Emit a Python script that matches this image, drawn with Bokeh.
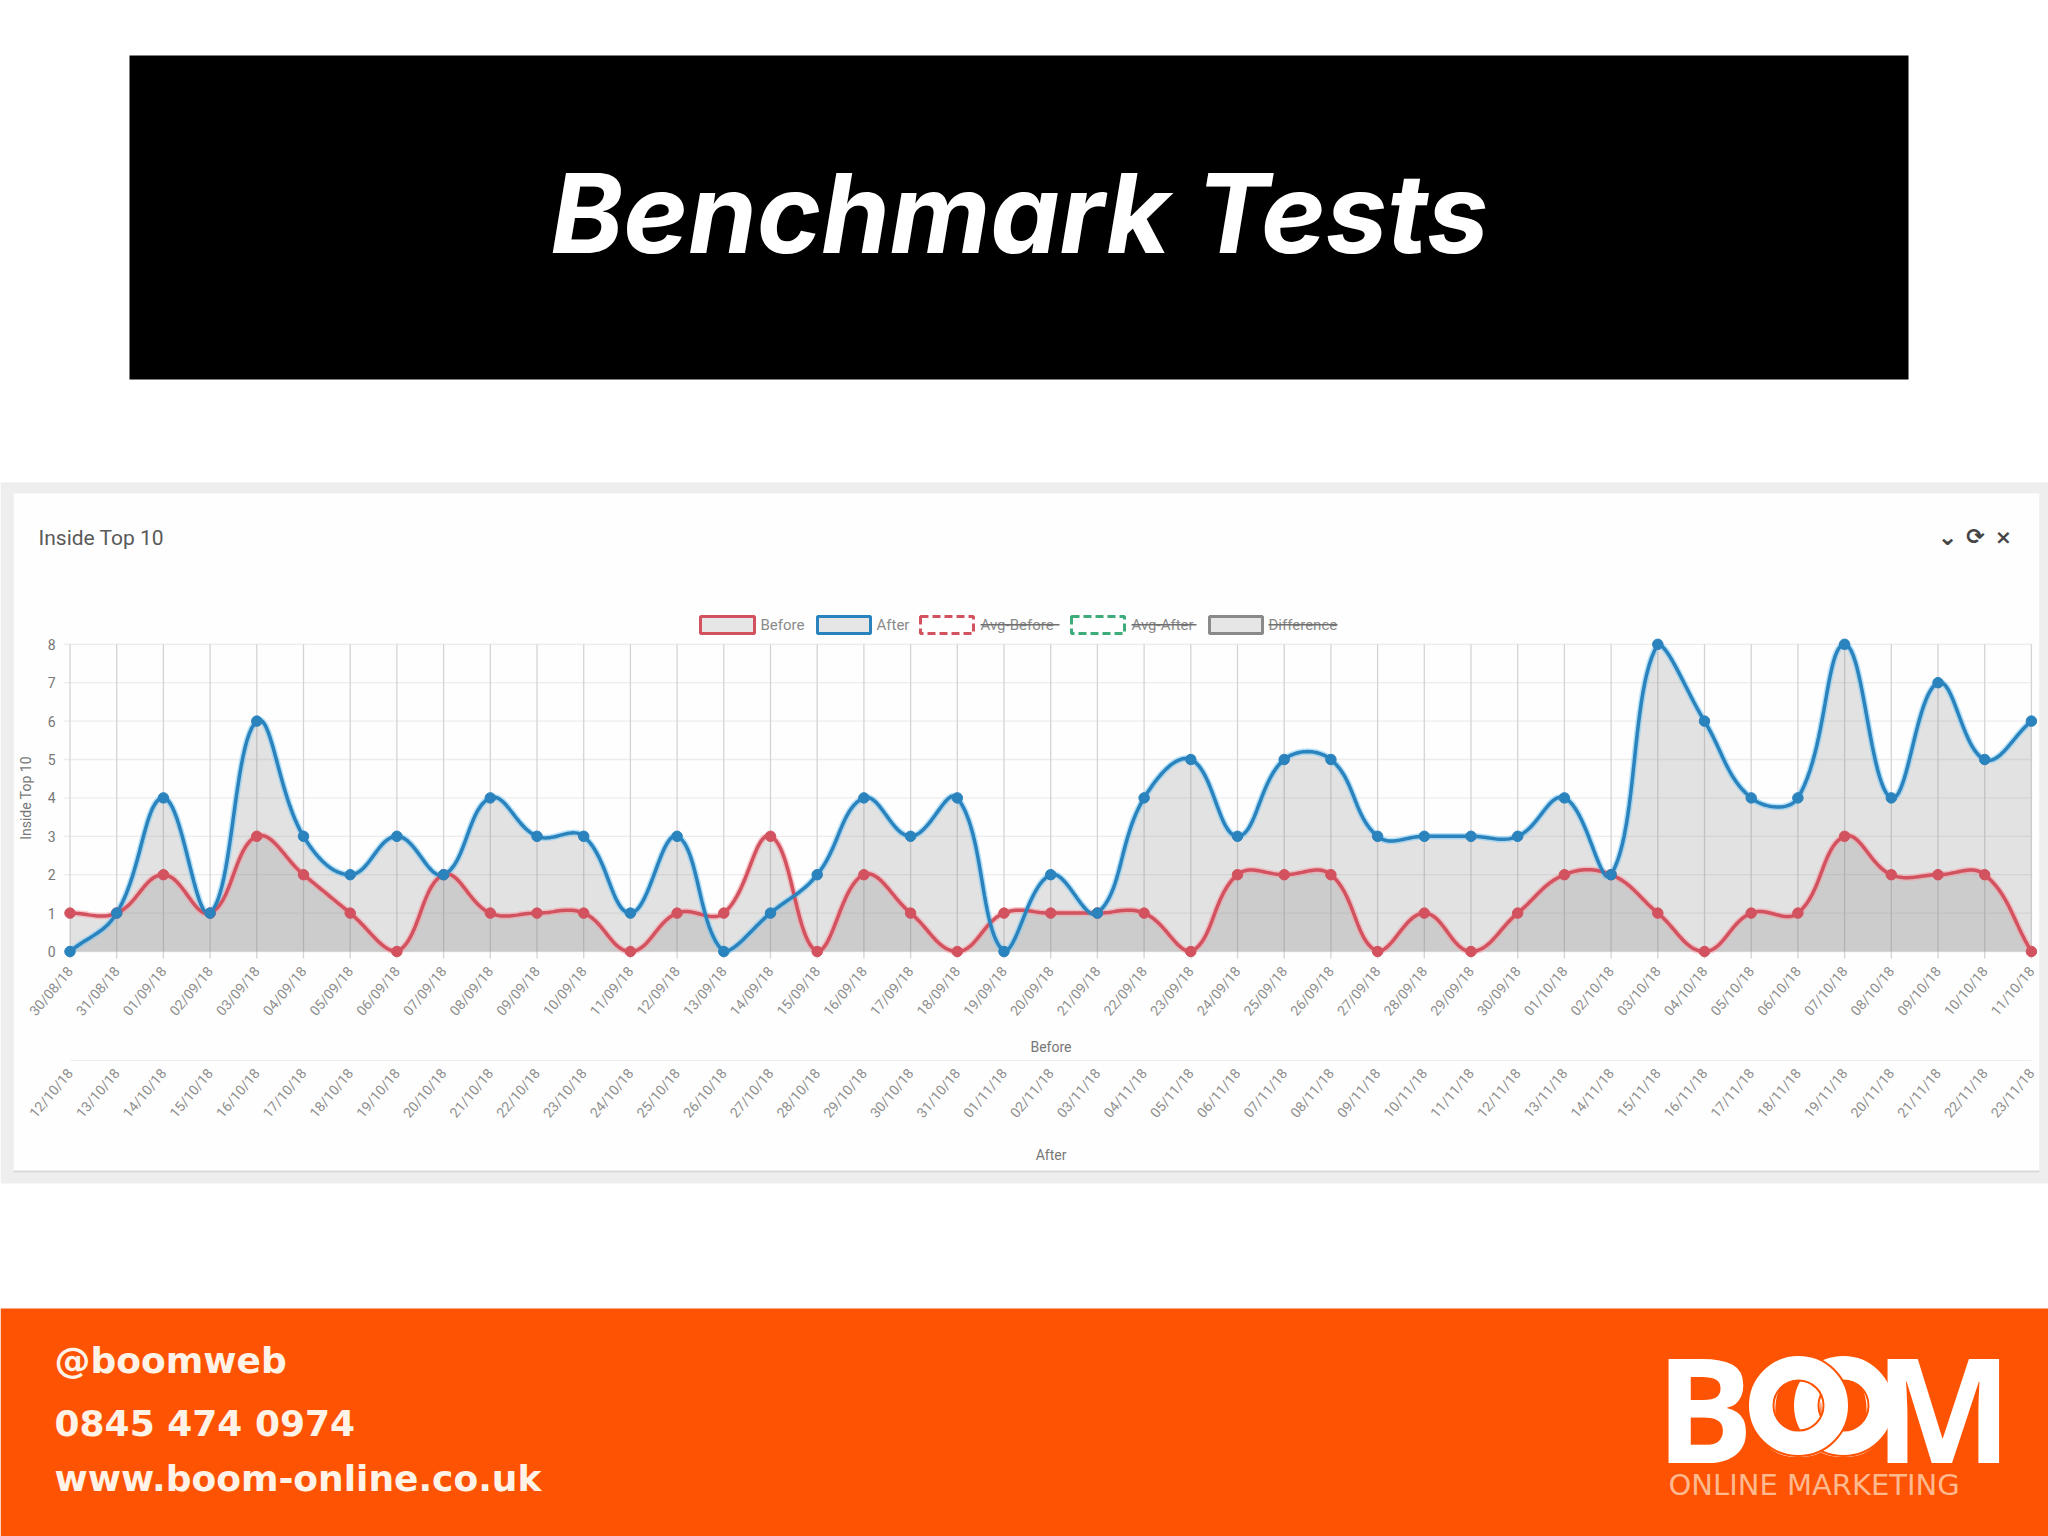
import numpy as np
from bokeh.embed import file_html
from bokeh.resources import INLINE
from bokeh.plotting import figure
from bokeh.models import BoxAnnotation, Label, LinearAxis, FixedTicker, Range1d

TITLE = "Benchmark Tests"
CARD_TITLE = "Inside Top 10"
dates_before = ["30/08/18","31/08/18","01/09/18","02/09/18","03/09/18","04/09/18","05/09/18","06/09/18","07/09/18",
    "08/09/18","09/09/18","10/09/18","11/09/18","12/09/18","13/09/18","14/09/18","15/09/18","16/09/18","17/09/18",
    "18/09/18","19/09/18","20/09/18","21/09/18","22/09/18","23/09/18","24/09/18","25/09/18","26/09/18","27/09/18",
    "28/09/18","29/09/18","30/09/18","01/10/18","02/10/18","03/10/18","04/10/18","05/10/18","06/10/18","07/10/18",
    "08/10/18","09/10/18","10/10/18","11/10/18"]
dates_after = ["12/10/18","13/10/18","14/10/18","15/10/18","16/10/18","17/10/18","18/10/18","19/10/18","20/10/18",
    "21/10/18","22/10/18","23/10/18","24/10/18","25/10/18","26/10/18","27/10/18","28/10/18","29/10/18","30/10/18",
    "31/10/18","01/11/18","02/11/18","03/11/18","04/11/18","05/11/18","06/11/18","07/11/18","08/11/18","09/11/18",
    "10/11/18","11/11/18","12/11/18","13/11/18","14/11/18","15/11/18","16/11/18","17/11/18","18/11/18","19/11/18",
    "20/11/18","21/11/18","22/11/18","23/11/18"]
before = [1,1,2,1,3,2,1,0,2,1,1,1,0,1,1,3,0,2,1,0,1,1,1,1,0,2,2,2,0,1,0,1,2,2,1,0,1,1,3,2,2,2,0]
after = [0,1,4,1,6,3,2,3,2,4,3,3,1,3,0,1,2,4,3,4,0,2,1,4,5,3,5,5,3,3,3,3,4,2,8,6,4,4,8,4,7,5,6]
legend_names = ["Before", "After", "Avg-Before", "Avg-After", "Difference"]
footer_lines = ["@boomweb", "0845 474 0974", "www.boom-online.co.uk"]

BLUE, RED, GREEN, GREY = "#2b83bd", "#d2535f", "#3dab7a", "#8a8a8a"
ORANGE = "#fd5303"
FONT = "Roboto"
W, H = 2048, 1536
X0, Y0 = 69.5, 951       # page pixel of the data origin
XPX, YPX = 46.7, 38.4    # pixels per data unit


def smooth(values, tension=0.4, n=24):
    """Chart.js style bezier through the values (control points clamped to the scale)."""
    v = np.asarray(values, float)
    m = len(v)
    px, py = np.arange(m) * XPX, v * YPX
    out_x, out_y = [], []
    nxt = [None] * m
    prv = [None] * m
    for i in range(m):
        a, c = max(i - 1, 0), min(i + 1, m - 1)
        d1 = np.hypot(px[i] - px[a], py[i] - py[a])
        d2 = np.hypot(px[c] - px[i], py[c] - py[i])
        tot = d1 + d2 or 1
        ddx, ddy = px[c] - px[a], py[c] - py[a]
        prv[i] = (px[i] - tension * d1 / tot * ddx, py[i] - tension * d1 / tot * ddy)
        nxt[i] = (px[i] + tension * d2 / tot * ddx, py[i] + tension * d2 / tot * ddy)
    lim = 8 * YPX
    t = np.linspace(0, 1, n, endpoint=False)
    for i in range(m - 1):
        y1 = min(max(nxt[i][1], 0), lim)
        y2 = min(max(prv[i + 1][1], 0), lim)
        bx = (1-t)**3*px[i] + 3*(1-t)**2*t*nxt[i][0] + 3*(1-t)*t**2*prv[i+1][0] + t**3*px[i+1]
        by = (1-t)**3*py[i] + 3*(1-t)**2*t*y1 + 3*(1-t)*t**2*y2 + t**3*py[i+1]
        out_x.append(bx); out_y.append(by)
    return np.concatenate(out_x + [[px[-1]]]) / XPX, np.concatenate(out_y + [[py[-1]]]) / YPX


def dx(page_x):
    return (page_x - X0) / XPX


def dy(page_y):
    return (Y0 - page_y) / YPX


# the frame fills the page, so everything shares one pair of scales
p = figure(width=W, height=H, output_backend="svg", toolbar_location=None,
           x_range=Range1d(dx(0), dx(W)), y_range=Range1d(dy(H), dy(0)),
           min_border=0, background_fill_color="white", border_fill_color="white", outline_line_color=None)
p.grid.visible = False


def box(l, t, r, b, fill=None, line=None, width=0, dash="solid", level="image", alpha=1.0):
    p.add_layout(BoxAnnotation(left=dx(l), right=dx(r), top=dy(t), bottom=dy(b),
                               fill_color=fill, fill_alpha=alpha if fill else 0, line_color=line,
                               line_alpha=1 if line else 0, line_width=width, line_dash=dash, level=level,
                               editable=False))


def text(x, y, s, size, color="#666666", font=FONT, style="normal", align="left", level="annotation"):
    p.add_layout(Label(x=dx(x), y=dy(y), text=s, level=level,
                       text_font_size=f"{size}px", text_color=color, text_font=font, text_font_style=style,
                       text_align=align, text_baseline="middle"))


# page furniture
box(129, 55, 1908, 379, fill="#000000")
box(0, 482, 2048, 1183, fill="#eeeeee")
box(13, 495, 2039, 1172, fill="#d9d9d9")
box(13, 493, 2039, 1170, fill="#fefefe")
box(0, 1308, 2048, 1536, fill=ORANGE)
text(1019, 212, TITLE, 110, "white", "Inter", "bold italic", "center")
text(38, 537, CARD_TITLE, 21, "#5a5a5a")
for x, s, sz in [(1947, "\u2304", 24), (1975, "\u27f3", 22), (2003, "\u00d7", 20)]:
    text(x, 536, s, sz, "#444444", "DejaVu Sans", "bold", "center")

# footer
for (y, s) in zip([1360, 1423, 1478], footer_lines):
    text(54, y, s, 36, "#fff3e8", "DejaVu Sans", "bold")

# logo: the two letters O lie under the thicker interlocked rings
text(1747, 1406, "O", 128, "white", "Open Sans", "bold", level="underlay")
text(1792, 1406, "O", 128, "white", "Open Sans", "bold", level="underlay")
for cx_page in (1843, 1798):
    p.scatter([dx(cx_page)], [dy(1405)], size=100, fill_alpha=0, line_color=ORANGE, line_width=3)
    p.scatter([dx(cx_page)], [dy(1405)], size=75, fill_alpha=0, line_color="white", line_width=24)
    p.scatter([dx(cx_page)], [dy(1405)], size=50, fill_alpha=0, line_color=ORANGE, line_width=2)
text(1655, 1406, "B", 146, "white", "Open Sans", "bold")
text(1874, 1406, "M", 146, "white", "Open Sans", "bold")
text(1668, 1484, "ONLINE MARKETING", 29, "#ffb98f", "DejaVu Sans", "normal")

# legend
leg = [(700, 754, 760, RED, "solid"), (817, 870, 876, BLUE, "solid"), (920, 973, 980, RED, "8 4"),
       (1071, 1124, 1131, GREEN, "8 4"), (1209, 1262, 1268, GREY, "solid")]
text_ends = [805, 908, 1059, 1196, 1337]
for i, ((l, r, tx, c, d), name) in enumerate(zip(leg, legend_names)):
    box(l, 616, r, 633, fill="#e6e6e6" if i in (0, 1, 4) else None, line=c, width=3, dash=d, level="annotation")
    text(tx, 624, name, 15, "#8a8a8a")
    if i >= 2:
        box(tx, 623.5, text_ends[i], 625, fill="#6e6e6e", level="annotation")

idx = list(range(len(before)))
levels = list(range(9))

# grid
p.segment(x0=[dx(63)] * 9, x1=[dx(2032)] * 9, y0=levels, y1=levels, line_color="#ececec", line_width=1.3)
p.segment(x0=idx, x1=idx, y0=[dy(958)] * len(idx), y1=[8] * len(idx), line_color="#d4d4d8", line_width=1.3)

# filled curves, then lines, then points
for vals in (before, after):
    cx, cy = smooth(vals)
    p.varea(cx, 0, cy, fill_color="#7f7f7f", fill_alpha=0.22)
for vals, c, halo in ((before, RED, "#f4a0a8"), (after, BLUE, "#7cc8f2")):
    cx, cy = smooth(vals)
    p.line(cx, cy, line_color=halo, line_width=6.5, line_alpha=0.55)
for vals, c, halo in ((before, RED, "#f4a0a8"), (after, BLUE, "#7cc8f2")):
    cx, cy = smooth(vals)
    p.line(cx, cy, line_color=c, line_width=3.5)
p.scatter(idx, before, size=10.5, fill_color=RED, line_color=RED)
p.scatter(idx, after, size=10.5, fill_color=BLUE, line_color=BLUE)

# axes, pinned at their places on the page
x_ticks = FixedTicker(ticks=idx)
y_ticks = FixedTicker(ticks=levels)
ax = p.xaxis[0]
ax.ticker = x_ticks
ax.fixed_location = dy(958)
ax.bounds = (0, 42)
ax.major_label_overrides = {i: s for i, s in enumerate(dates_before)}
ax.axis_label = "Before"
ax2 = LinearAxis(ticker=x_ticks, major_label_overrides={i: s for i, s in enumerate(dates_after)},
                 axis_label="After", fixed_location=dy(1060), bounds=(0, 42))
p.add_layout(ax2, "below")
for a, standoff in ((ax, 12), (ax2, 18)):
    a.major_label_orientation = np.radians(50)
    a.major_label_text_font = FONT
    a.major_label_text_font_size = "14px"
    a.major_label_text_color = "#8e8e8e"
    a.major_label_standoff = 4
    a.axis_label_text_font = FONT
    a.axis_label_text_font_size = "14px"
    a.axis_label_text_font_style = "normal"
    a.axis_label_text_color = "#777777"
    a.axis_label_standoff = standoff
    a.major_tick_line_color = None
    a.minor_tick_line_color = None
    a.axis_line_color = None
ax2.axis_line_color = "#eeeeee"
ay = p.yaxis[0]
ay.ticker = y_ticks
ay.fixed_location = dx(63)
ay.bounds = (0, 8)
ay.axis_label = CARD_TITLE
ay.axis_label_text_font = FONT
ay.axis_label_text_font_size = "14px"
ay.axis_label_text_font_style = "normal"
ay.axis_label_text_color = "#777777"
ay.axis_label_standoff = 11
ay.major_label_text_font = FONT
ay.major_label_text_font_size = "14px"
ay.major_label_text_color = "#777777"
ay.major_label_standoff = 2
ay.major_tick_line_color = None
ay.minor_tick_line_color = None
ay.axis_line_color = None

open("out.html", "w").write(file_html(p, INLINE))
